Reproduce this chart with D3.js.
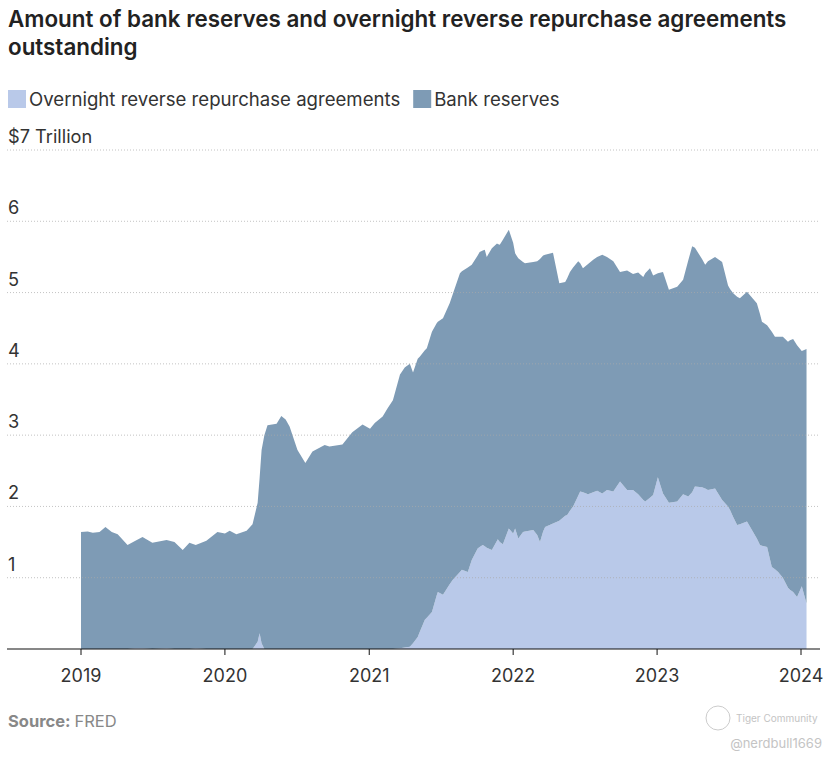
<!DOCTYPE html>
<html>
<head>
<meta charset="utf-8">
<script src="https://cdn.jsdelivr.net/npm/d3@7"></script>
<style>
  body { margin: 0; background: #fff; }
  svg { display: block; font-family: Inter, "Noto Sans", sans-serif; }
</style>
</head>
<body>
<svg id="chart"></svg>
<script>
const width = 838;
const height = 765;

// Data ($ trillion)
const dates = [
  '2019-01-01','2019-01-18','2019-01-31','2019-02-17','2019-03-04','2019-03-20','2019-04-04','2019-04-29',
  '2019-05-19','2019-06-06','2019-07-01','2019-08-06','2019-08-26','2019-09-16','2019-10-03','2019-10-19',
  '2019-11-15','2019-12-13','2020-01-01','2020-01-13','2020-01-30','2020-02-25','2020-03-11','2020-03-24',
  '2020-03-29','2020-04-03','2020-04-10','2020-04-18','2020-05-11','2020-05-23','2020-06-03','2020-06-13',
  '2020-07-03','2020-07-23','2020-08-10','2020-09-10','2020-09-22','2020-10-25','2020-11-19','2020-12-15',
  '2021-01-03','2021-01-15','2021-02-04','2021-02-17','2021-03-02','2021-03-20','2021-04-01','2021-04-14',
  '2021-04-22','2021-05-04','2021-05-09','2021-05-22','2021-05-27','2021-06-09','2021-06-21','2021-06-24',
  '2021-07-07','2021-07-24','2021-08-01','2021-08-19','2021-08-24','2021-09-08','2021-09-18','2021-10-03',
  '2021-10-08','2021-10-16','2021-10-21','2021-10-26','2021-11-08','2021-11-21','2021-11-23','2021-11-28',
  '2021-12-06','2021-12-21','2022-01-01','2022-01-06','2022-01-14','2022-01-26','2022-01-31','2022-02-21',
  '2022-03-03','2022-03-10','2022-03-18','2022-03-23','2022-04-12','2022-04-28','2022-05-13','2022-05-18',
  '2022-05-25','2022-06-02','2022-06-15','2022-06-20','2022-06-27','2022-07-10','2022-07-23','2022-08-02',
  '2022-08-15','2022-08-27','2022-09-12','2022-09-29','2022-10-17','2022-11-01','2022-11-14','2022-11-27',
  '2022-12-02','2022-12-14','2022-12-22','2023-01-03','2023-01-16','2023-01-31','2023-02-21','2023-03-08',
  '2023-03-21','2023-03-31','2023-04-07','2023-04-25','2023-05-03','2023-05-10','2023-05-28','2023-06-15',
  '2023-06-30','2023-07-05','2023-07-13','2023-07-23','2023-07-30','2023-08-17','2023-09-11','2023-09-19',
  '2023-09-24','2023-10-07','2023-10-19','2023-10-27','2023-11-04','2023-11-16','2023-11-29','2023-12-04',
  '2023-12-12','2023-12-22','2024-01-03','2024-01-15'
];

const rrp = [
  0.00,0.00,0.00,0.00,0.00,0.00,0.00,0.00,
  0.01,0.01,0.00,0.01,0.00,0.00,0.00,0.01,
  0.00,0.00,0.00,0.00,0.00,0.00,0.00,0.10,
  0.22,0.08,0.00,0.00,0.00,0.00,0.00,0.00,
  0.00,0.00,0.00,0.00,0.00,0.00,0.00,0.00,
  0.00,0.00,0.00,0.00,0.00,0.01,0.02,0.03,
  0.08,0.17,0.24,0.41,0.44,0.52,0.75,0.80,
  0.76,0.91,0.97,1.08,1.11,1.08,1.25,1.41,
  1.43,1.46,1.44,1.42,1.39,1.52,1.54,1.50,
  1.47,1.69,1.62,1.69,1.55,1.64,1.65,1.67,
  1.60,1.50,1.65,1.71,1.76,1.80,1.87,1.88,
  1.94,2.00,2.15,2.21,2.20,2.17,2.20,2.22,
  2.18,2.23,2.21,2.35,2.23,2.23,2.17,2.09,
  2.07,2.12,2.16,2.41,2.18,2.05,2.07,2.17,
  2.14,2.20,2.28,2.27,2.25,2.23,2.25,2.09,
  2.00,1.95,1.85,1.74,1.75,1.79,1.55,1.46,
  1.45,1.43,1.15,1.12,1.08,1.00,0.86,0.83,
  0.80,0.73,0.88,0.64
];

const reserves = [
  1.64,1.65,1.63,1.64,1.71,1.64,1.61,1.46,
  1.51,1.56,1.49,1.52,1.50,1.39,1.49,1.45,
  1.52,1.64,1.62,1.66,1.61,1.66,1.75,1.95,
  2.18,2.71,3.00,3.14,3.16,3.27,3.22,3.12,
  2.79,2.61,2.77,2.86,2.84,2.87,3.04,3.15,
  3.09,3.17,3.26,3.38,3.49,3.84,3.93,3.97,
  3.80,3.90,3.86,3.78,3.78,3.93,3.82,3.79,
  3.88,3.94,4.01,4.19,4.19,4.27,4.14,4.11,
  4.14,4.13,4.16,4.08,4.23,4.17,4.14,4.17,
  4.27,4.19,4.08,3.86,3.93,3.79,3.76,3.76,
  3.84,3.97,3.87,3.82,3.80,3.33,3.28,3.32,
  3.35,3.35,3.29,3.20,3.14,3.23,3.26,3.28,
  3.35,3.27,3.23,2.94,3.08,3.03,3.11,3.13,
  3.20,3.22,3.08,2.86,3.11,2.99,3.01,3.01,
  3.31,3.45,3.35,3.20,3.14,3.21,3.25,3.34,
  3.10,3.10,3.14,3.20,3.17,3.22,3.30,3.24,
  3.14,3.11,3.30,3.26,3.30,3.38,3.45,3.50,
  3.55,3.53,3.30,3.57
];

const seriesKeys = ['rrp', 'reserves'];
const seriesNames = ['Overnight reverse repurchase agreements', 'Bank reserves'];
const seriesColors = ['#b9c9e9', '#7e9bb5'];
const yTicks = [1, 2, 3, 4, 5, 6, 7];
const xTickYears = [2019, 2020, 2021, 2022, 2023, 2024];

const parse = d3.timeParse('%Y-%m-%d');
const rows = dates.map((d, i) => ({ date: parse(d), rrp: rrp[i], reserves: reserves[i] }));

const svg = d3.select('#chart').attr('width', width).attr('height', height);

const left = 7, right = 820;
const x = d3.scaleTime()
  .domain([new Date(2019, 0, 1), new Date(2024, 0, 1)])
  .range([81, 801]);
const y = d3.scaleLinear().domain([0, 7]).range([649, 150]);

// Title
svg.append('text')
  .attr('x', 8).attr('y', 27)
  .style('font-size', '22.4px').style('font-weight', 600).attr('fill', '#222')
  .text('Amount of bank reserves and overnight reverse repurchase agreements');
svg.append('text')
  .attr('x', 8).attr('y', 55)
  .style('font-size', '22.4px').style('font-weight', 600).attr('fill', '#222')
  .text('outstanding');

// Legend
const legend = svg.append('g').attr('transform', 'translate(8,90)');
let lx = 0;
seriesNames.forEach((name, i) => {
  legend.append('rect').attr('x', lx).attr('y', 0).attr('width', 18).attr('height', 18).attr('fill', seriesColors[i]);
  const t = legend.append('text')
    .attr('x', lx + 21).attr('y', 15.5)
    .style('font-size', '18.6px').attr('fill', '#333')
    .text(name);
  lx += 21 + t.node().getComputedTextLength() + 13;
});

// Stacked areas
const stack = d3.stack().keys(seriesKeys);
const stacked = stack(rows);
const area = d3.area()
  .x(d => x(d.data.date))
  .y0(d => y(d[0]))
  .y1(d => y(d[1]));

svg.append('g').selectAll('path')
  .data(stacked)
  .join('path')
  .attr('d', area)
  .attr('fill', (d, i) => seriesColors[i]);

// Gridlines on top
const grid = svg.append('g');
grid.selectAll('line')
  .data(yTicks)
  .join('line')
  .attr('x1', left).attr('x2', right)
  .attr('y1', d => y(d)).attr('y2', d => y(d))
  .attr('stroke', '#aaa').attr('stroke-opacity', 0.7)
  .attr('stroke-width', 1).attr('stroke-dasharray', '1,2');

grid.selectAll('text')
  .data(yTicks)
  .join('text')
  .attr('x', 8)
  .attr('y', d => y(d) - 7)
  .style('font-size', '18.2px').attr('fill', '#333')
  .text(d => d === 7 ? '$7 Trillion' : d);

// X axis
const xAxisG = svg.append('g');
xAxisG.append('line')
  .attr('x1', left).attr('x2', right)
  .attr('y1', y(0)).attr('y2', y(0))
  .attr('stroke', '#111').attr('stroke-width', 1.2);
xAxisG.selectAll('.tick')
  .data(xTickYears)
  .join('line')
  .attr('x1', d => x(new Date(d, 0, 1))).attr('x2', d => x(new Date(d, 0, 1)))
  .attr('y1', y(0)).attr('y2', y(0) + 6)
  .attr('stroke', '#111');
xAxisG.selectAll('text')
  .data(xTickYears)
  .join('text')
  .attr('x', d => x(new Date(d, 0, 1)))
  .attr('y', 682)
  .attr('text-anchor', 'middle')
  .style('font-size', '18px').attr('fill', '#333')
  .text(d => d);

// Source
const src = svg.append('text').attr('x', 8).attr('y', 727).style('font-size', '16.5px').attr('fill', '#888');
src.append('tspan').style('font-weight', 700).text('Source: ');
src.append('tspan').text('FRED');

// Watermark
svg.append('circle').attr('cx', 718).attr('cy', 718).attr('r', 12)
  .attr('fill', 'none').attr('stroke', '#ccc').attr('stroke-width', 1);
svg.append('text').attr('x', 736).attr('y', 722)
  .style('font-size', '10px').attr('fill', '#c4c4c4').text('Tiger Community');
svg.append('text').attr('x', 822).attr('y', 748).attr('text-anchor', 'end')
  .style('font-size', '13px').attr('fill', '#c4c4c4').text('@nerdbull1669');
</script>
</body>
</html>
